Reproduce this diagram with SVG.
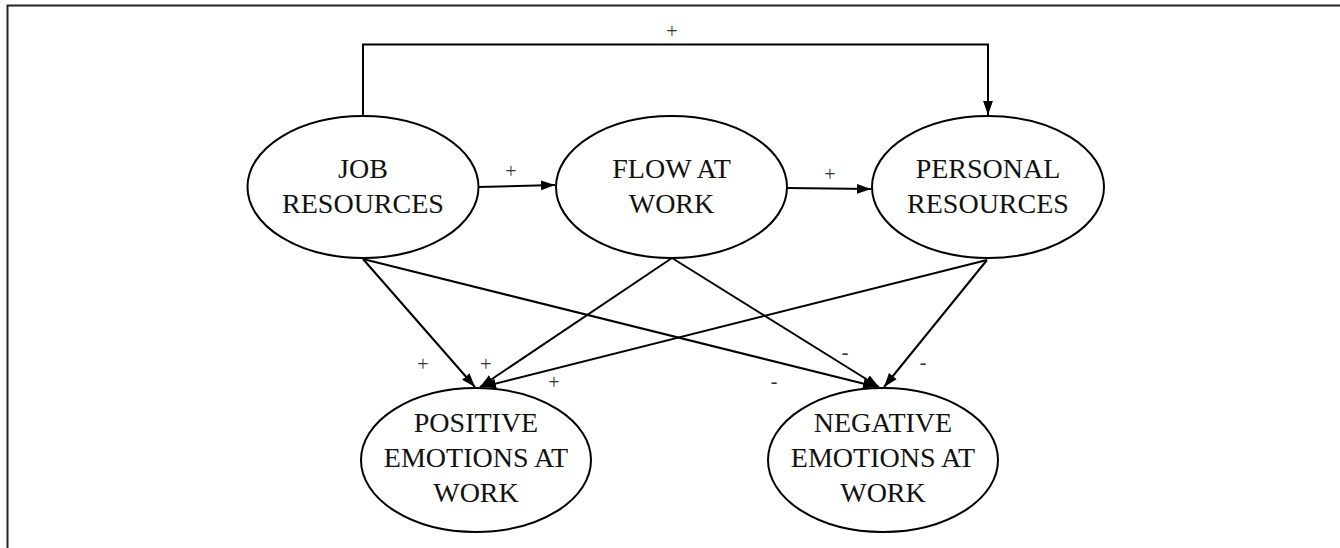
<svg xmlns="http://www.w3.org/2000/svg" width="1340" height="548" viewBox="0 0 1340 548">
<style>
.node ellipse{fill:#fff;stroke:#000;stroke-width:2}
.node text{font-family:'Liberation Serif','Times New Roman','DejaVu Serif',serif;font-size:28px;fill:#111;text-anchor:middle}
.conn path,.conn line{fill:none;stroke:#000;stroke-width:2}
.lbl{font-family:'Liberation Serif','Times New Roman','DejaVu Serif',serif;font-size:20px;fill:#333;text-anchor:middle}
</style>
<defs>
<marker id="ahb" viewBox="0 0 10 10" refX="10" refY="5" markerWidth="14" markerHeight="14" orient="auto" markerUnits="userSpaceOnUse">
<path d="M0,1.5 L10,5 L0,8.5 z" fill="#000"/>
</marker>
</defs>
<rect width="1340" height="548" fill="#fff"/>
<g id="frame">
<path d="M7.5,548 V5.5 H1340" fill="none" stroke="#222" stroke-width="2"/>
</g>
<g class="conn" id="connectors">
<path d="M363,116 V44.5 H988 V115" marker-end="url(#ahb)"/>
<line x1="478" y1="187" x2="555" y2="185" marker-end="url(#ahb)"/>
<line x1="787" y1="188" x2="871" y2="189" marker-end="url(#ahb)"/>
<line x1="363" y1="259" x2="475" y2="387" marker-end="url(#ahb)"/>
<line x1="672" y1="258" x2="480" y2="387" marker-end="url(#ahb)"/>
<line x1="987" y1="260" x2="482" y2="387" marker-end="url(#ahb)"/>
<line x1="363" y1="259" x2="877" y2="387" marker-end="url(#ahb)"/>
<line x1="672" y1="258" x2="879" y2="387" marker-end="url(#ahb)"/>
<line x1="987" y1="260" x2="884" y2="387" marker-end="url(#ahb)"/>
</g>
<g id="labels">
<text class="lbl" x="672" y="38">+</text>
<text class="lbl" x="511" y="178">+</text>
<text class="lbl" x="830" y="181">+</text>
<text class="lbl" x="423" y="371">+</text>
<text class="lbl" x="486" y="371">+</text>
<text class="lbl" x="554" y="389">+</text>
<text class="lbl" x="845" y="359">-</text>
<text class="lbl" x="923" y="369">-</text>
<text class="lbl" x="774" y="388">-</text>
</g>
<g class="node" id="job-resources">
<ellipse cx="363" cy="187" rx="115.5" ry="71"/>
<text x="363" y="178">JOB</text>
<text x="363" y="213">RESOURCES</text>
</g>
<g class="node" id="flow-at-work">
<ellipse cx="671.5" cy="187" rx="115.5" ry="71"/>
<text x="671.5" y="178">FLOW AT</text>
<text x="671.5" y="213">WORK</text>
</g>
<g class="node" id="personal-resources">
<ellipse cx="988" cy="187" rx="116" ry="71"/>
<text x="988" y="178">PERSONAL</text>
<text x="988" y="213">RESOURCES</text>
</g>
<g class="node" id="positive-emotions">
<ellipse cx="476" cy="460" rx="115" ry="72"/>
<text x="476" y="432">POSITIVE</text>
<text x="476" y="467">EMOTIONS AT</text>
<text x="476" y="502">WORK</text>
</g>
<g class="node" id="negative-emotions">
<ellipse cx="883" cy="460" rx="115" ry="72"/>
<text x="883" y="432">NEGATIVE</text>
<text x="883" y="467">EMOTIONS AT</text>
<text x="883" y="502">WORK</text>
</g>
</svg>
